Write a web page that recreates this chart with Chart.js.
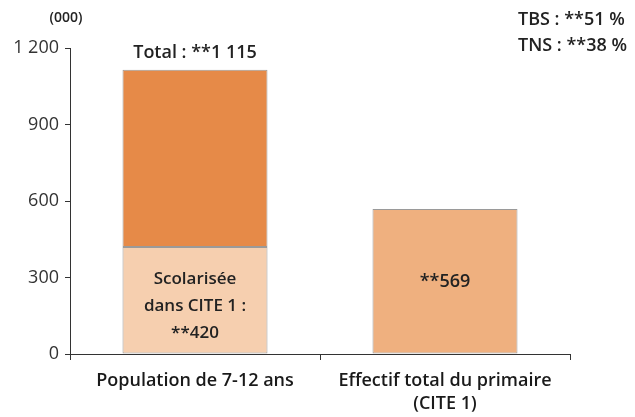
<!DOCTYPE html>
<html>
<head>
<meta charset="utf-8">
<script src="https://cdn.jsdelivr.net/npm/chart.js@4.4.1/dist/chart.umd.min.js"></script>
<style>
    html, body { margin: 0; padding: 0; background: #fff; }
    #wrap { width: 635px; height: 417px; position: relative; }
</style>
</head>
<body>
<div id="wrap"><canvas id="chart"></canvas></div>
<script>
// valeurs en milliers
const categories = [['Population de 7-12 ans'], ['Effectif total du primaire', '(CITE 1)']];
const populationTotal = [1115, null];
const scolarisee = [420, null];
const effectifPrimaire = [null, 569];
const yTicks = [0, 300, 600, 900, 1200];
const indicators = ['TBS : **51 %', 'TNS : **38 %'];

const nonScolarisee = populationTotal.map((v, i) => v == null ? null : v - scolarisee[i]);
const fontFamily = '"Open Sans", "DejaVu Sans", sans-serif';

function fmt(v) {
    return String(v).replace(/\B(?=(\d{3})+(?!\d))/g, ' ');
}

const labelPlugin = {
    id: 'labels',
    afterDraw(chart) {
        const ctx = chart.ctx;
        const x = chart.scales.x;
        const y = chart.scales.y;
        ctx.save();
        ctx.fillStyle = '#222';
        ctx.textAlign = 'center';
        ctx.textBaseline = 'middle';
        ctx.font = '600 18px ' + fontFamily;
        ctx.fillText('Total : **' + fmt(populationTotal[0]),
            x.getPixelForValue(0), y.getPixelForValue(populationTotal[0]) - 17);

        const midLow = (y.getPixelForValue(0) + y.getPixelForValue(scolarisee[0])) / 2 + 6;
        ctx.font = '600 17px ' + fontFamily;
        ['Scolarisée', 'dans CITE 1 :', '**' + scolarisee[0]].forEach((t, i) => {
            ctx.fillText(t, x.getPixelForValue(0), midLow + (i - 1) * 27);
        });
        ctx.font = '600 18px ' + fontFamily;
        ctx.fillText('**' + effectifPrimaire[1], x.getPixelForValue(1),
            (y.getPixelForValue(0) + y.getPixelForValue(effectifPrimaire[1])) / 2);

        ctx.font = '600 14px ' + fontFamily;
        ctx.fillText('(000)', 66, 18);

        ctx.font = '600 18px ' + fontFamily;
        ctx.textAlign = 'left';
        indicators.forEach((t, i) => ctx.fillText(t, 518, 20 + i * 26));
        ctx.restore();
    }
};

new Chart(document.getElementById('chart'), {
    type: 'bar',
    data: {
        labels: categories,
        datasets: [
            {
                label: 'Scolarisée dans CITE 1',
                data: scolarisee,
                backgroundColor: '#F6CFAF',
                borderColor: '#9a9a9a',
                borderWidth: 1,
                borderSkipped: false,
                barPercentage: 0.58,
                categoryPercentage: 1,
                grouped: false
            },
            {
                label: 'Non scolarisée',
                data: nonScolarisee,
                backgroundColor: '#E68A48',
                borderColor: '#9a9a9a',
                borderWidth: 1,
                borderSkipped: false,
                barPercentage: 0.58,
                categoryPercentage: 1,
                grouped: false
            },
            {
                label: 'Effectif total du primaire',
                data: effectifPrimaire,
                backgroundColor: '#EFB07F',
                borderColor: '#9a9a9a',
                borderWidth: 1,
                borderSkipped: false,
                barPercentage: 0.58,
                categoryPercentage: 1,
                grouped: false
            }
        ]
    },
    options: {
        responsive: true,
        maintainAspectRatio: false,
        animation: false,
        layout: { padding: { top: 48, right: 65, left: 0, bottom: 0 } },
        plugins: {
            legend: { display: false },
            tooltip: { enabled: false }
        },
        scales: {
            x: {
                stacked: true,
                grid: { drawOnChartArea: false, drawTicks: true, tickLength: 6, color: '#333', offset: true },
                border: { display: true, color: '#333', width: 1 },
                ticks: {
                    color: '#1a1a1a',
                    font: { family: fontFamily, size: 18, weight: '600', lineHeight: 1.28 },
                    padding: 9,
                    maxRotation: 0,
                    autoSkip: false
                },
                afterFit: (scale) => { scale.height = 63; }
            },
            y: {
                stacked: true,
                min: 0,
                max: 1200,
                afterBuildTicks: (scale) => { scale.ticks = yTicks.map(v => ({ value: v })); },
                grid: { drawOnChartArea: false, drawTicks: true, tickLength: 5, color: '#333' },
                border: { display: true, color: '#333', width: 1 },
                ticks: {
                    color: '#333',
                    font: { family: fontFamily, size: 18, weight: '500' },
                    padding: 6,
                    callback: (v) => fmt(v)
                },
                afterFit: (scale) => { scale.width = 70; }
            }
        }
    },
    plugins: [labelPlugin]
});
</script>
</body>
</html>
